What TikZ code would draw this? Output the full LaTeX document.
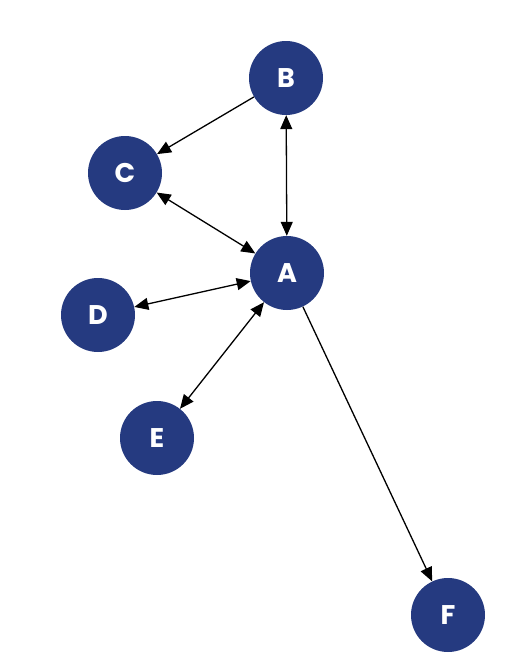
\documentclass[tikz,border=0pt]{standalone}
\usepackage{fontspec}
\setmainfont{Poppins}
\usetikzlibrary{arrows.meta}
\definecolor{navy}{RGB}{37,58,128}
\begin{document}
\begin{tikzpicture}[x=1pt, y=-1pt]
				\tikzstyle{every node}=[circle, fill=navy, text=white, minimum size=74pt, inner sep=0pt, font=\fontsize{27}{27}\selectfont\bfseries]
				\tikzstyle{link}=[line width=1.3pt, -{Triangle[length=14pt, width=12pt]}]
				\tikzstyle{both}=[line width=1.3pt, {Triangle[length=14pt, width=12pt]}-{Triangle[length=14pt, width=12pt]}]
				\useasboundingbox (0, 0) rectangle (508, 664);
				\node (B) at (286, 78) {B};
				\node (C) at (125, 173) {C};
				\node (A) at (287, 273) {A};
				\node (D) at (98, 315) {D};
				\node (E) at (157, 438) {E};
				\node (F) at (448, 615) {F};
				\draw [link] (B) -- (C);
				\draw [both] (B) -- (A);
				\draw [both] (C) -- (A);
				\draw [both] (D) -- (A);
				\draw [both] (E) -- (A);
				\draw [link] (A) -- (F);
		\end{tikzpicture}
\end{document}
